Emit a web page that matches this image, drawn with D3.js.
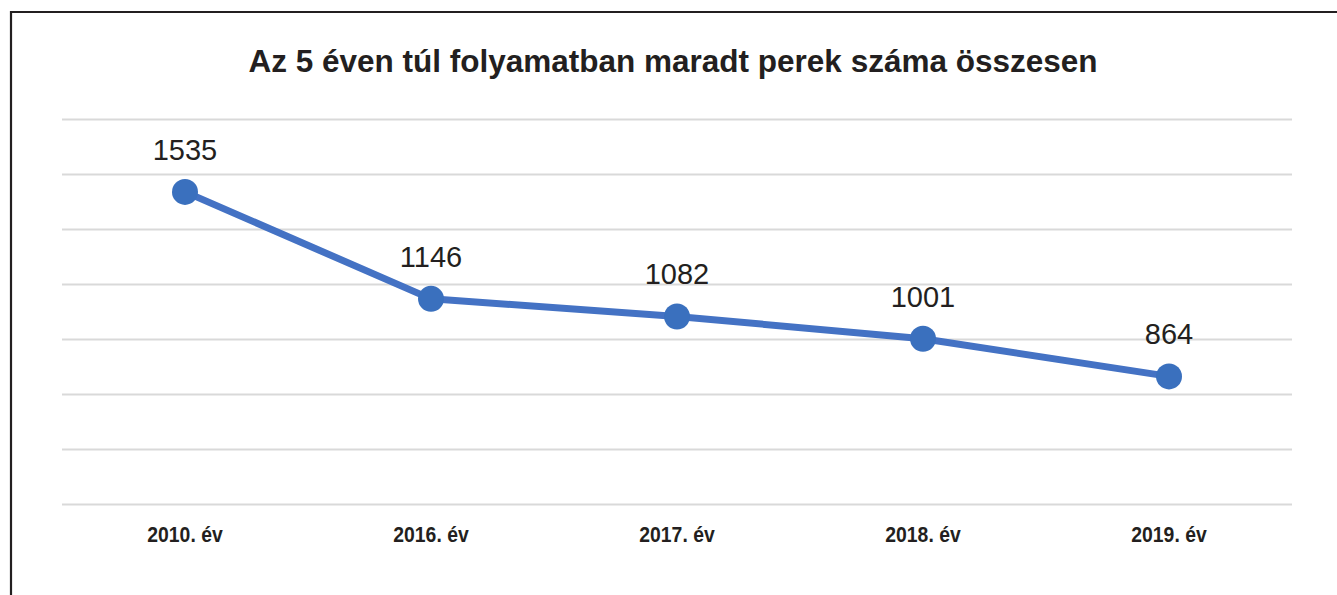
<!DOCTYPE html>
<html>
<head>
<meta charset="utf-8">
<script src="https://cdn.jsdelivr.net/npm/d3@7"></script>
<style>
  body { margin: 0; background: #fff; }
</style>
</head>
<body>
<div id="chart"></div>
<script>
var title = "Az 5 éven túl folyamatban maradt perek száma összesen";
var categories = ["2010. év", "2016. év", "2017. év", "2018. év", "2019. év"];
var values = [1535, 1146, 1082, 1001, 864];
var yTicks = [400, 600, 800, 1000, 1200, 1400, 1600, 1800];

var svgWidth = 1337, svgHeight = 595;
var margin = { top: 119, right: 45, bottom: 91, left: 62 };
var width = svgWidth - margin.left - margin.right;
var height = svgHeight - margin.top - margin.bottom;

var svg = d3.select("#chart").append("svg")
  .attr("width", svgWidth)
  .attr("height", svgHeight);

// outer frame (left + top edges only are visible)
svg.append("path")
  .attr("d", "M11,595 V12 H1337")
  .attr("fill", "none")
  .attr("stroke", "#231f20")
  .attr("stroke-width", 2.2);

svg.append("text")
  .attr("x", 673)
  .attr("y", 72)
  .attr("text-anchor", "middle")
  .attr("font-family", "Liberation Sans, Arial, sans-serif")
  .attr("font-weight", "bold")
  .attr("font-size", 31.5)
  .attr("fill", "#231f20")
  .text(title);

var g = svg.append("g")
  .attr("transform", "translate(" + margin.left + "," + margin.top + ")");

var x = d3.scaleBand().domain(categories).range([0, width]);
var y = d3.scaleLinear().domain([400, 1800]).range([height, 0]);

// gridlines
g.append("g")
  .call(d3.axisLeft(y).tickValues(yTicks).tickSize(-width).tickFormat(""))
  .call(function(a) { a.select(".domain").remove(); })
  .selectAll(".tick line")
  .attr("stroke", "#d9d9d9")
  .attr("stroke-width", 2);

// category labels (condensed look)
g.append("g")
  .attr("transform", "translate(0," + height + ")")
  .call(d3.axisBottom(x).tickSize(0).tickPadding(22))
  .call(function(a) { a.select(".domain").remove(); })
  .selectAll("text")
  .attr("font-family", "Liberation Sans, Arial, sans-serif")
  .attr("font-weight", "bold")
  .attr("font-size", 22)
  .attr("transform", "scale(0.88,1)")
  .attr("fill", "#231f20");

var cx = function(d, i) { return x(categories[i]) + x.bandwidth() / 2; };

var line = d3.line()
  .x(cx)
  .y(function(d) { return y(d); });

g.append("path")
  .datum(values)
  .attr("fill", "none")
  .attr("stroke", "#4472c4")
  .attr("stroke-width", 7)
  .attr("stroke-linejoin", "round")
  .attr("d", line);

g.selectAll("circle")
  .data(values)
  .enter()
  .append("circle")
  .attr("cx", cx)
  .attr("cy", function(d) { return y(d); })
  .attr("r", 13)
  .attr("fill", "#3a70be");

g.selectAll(".label")
  .data(values)
  .enter()
  .append("text")
  .attr("class", "label")
  .attr("x", cx)
  .attr("y", function(d) { return y(d) - 32; })
  .attr("text-anchor", "middle")
  .attr("font-family", "Liberation Sans, Arial, sans-serif")
  .attr("font-size", 29)
  .attr("fill", "#231f20")
  .text(function(d) { return d; });
</script>
</body>
</html>
